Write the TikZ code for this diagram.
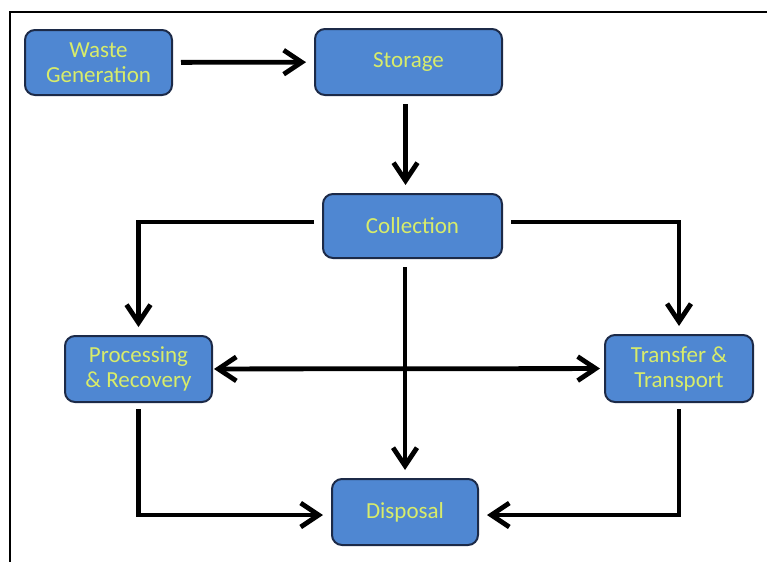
\documentclass[tikz,border=0pt]{standalone}
\usepackage{fontspec}
\setmainfont{Carlito}
\usetikzlibrary{arrows.meta}
\definecolor{boxblue}{RGB}{79,135,210}
\definecolor{boxedge}{RGB}{28,42,72}
\definecolor{labelgreen}{RGB}{216,236,106}
\tikzset{
    barb/.tip={Straight Barb[length=9pt,width=12pt]},
    stage/.style={draw=boxedge,line width=1pt,fill=boxblue,rounded corners=5pt,text=labelgreen,
        align=center,inner sep=0pt,font=\fontsize{11.5}{12.5}\selectfont},
    flow/.style={line width=2.4pt,-barb,shorten <=4pt,shorten >=4pt},
}
\begin{document}
\begin{tikzpicture}[x=0.5pt,y=-0.5pt]
    \useasboundingbox (0,0) rectangle (767,562);
    \draw[line width=1.1pt] (10,562) |- (767,12);
    \node[stage,minimum width=73.5pt,minimum height=32.5pt] (gen) at (98.5,62.5) {Waste\\Generation};
    \node[stage,minimum width=93.5pt,minimum height=33pt] (store) at (408.5,62) {Storage};
    \node[stage,minimum width=89.5pt,minimum height=32pt] (coll) at (412.5,226) {Collection};
    \node[stage,minimum width=73.5pt,minimum height=33pt] (proc) at (138.5,369) {Processing\\\& Recovery};
    \node[stage,minimum width=74pt,minimum height=33.5pt] (trans) at (679,368.5) {Transfer \&\\Transport};
    \node[stage,minimum width=73pt,minimum height=33pt] (disp) at (405,512) {Disposal};
    % flows
    \draw[flow] (gen) -- (store);
    \draw[flow] ([xshift=-1.5pt]store.south) -- ([xshift=-1.5pt]store.south |- coll.north);
    \draw[flow] (disp.north |- coll.south) -- (disp.north);
    \draw[flow] ([yshift=2pt]coll.west) -| (proc.north);
    \draw[flow] ([yshift=2pt]coll.east) -| (trans.north);
    \draw[flow,barb-barb,shorten <=0.5pt,shorten >=2pt] (proc) -- (trans);
    \draw[flow,shorten <=3pt] (proc.south) |- ([yshift=-1.5pt]disp.west);
    \draw[flow,shorten <=3pt] (trans.south) |- ([yshift=-1.5pt]disp.east);
\end{tikzpicture}
\end{document}
